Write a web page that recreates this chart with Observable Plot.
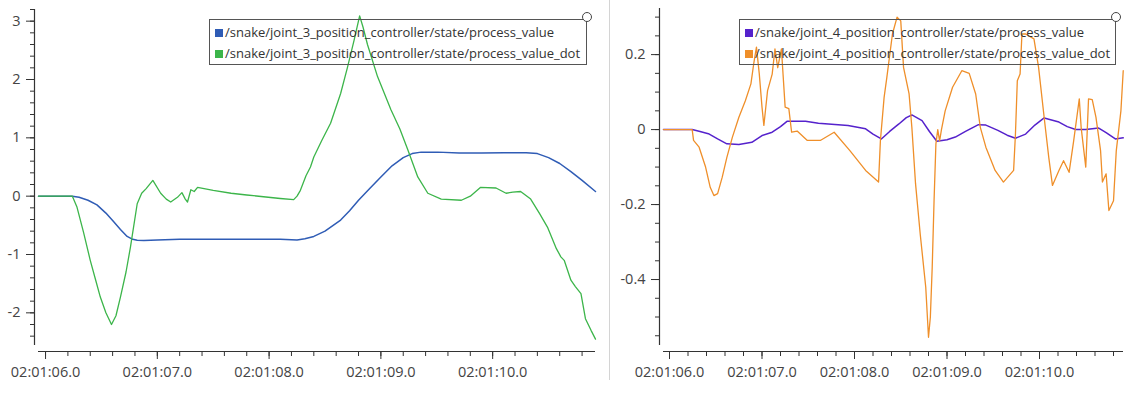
<!DOCTYPE html>
<html>
<head>
<meta charset="utf-8">
<script src="https://cdn.jsdelivr.net/npm/d3@7"></script>
<script src="https://cdn.jsdelivr.net/npm/@observablehq/plot@0.6"></script>
<style>
  html, body { margin: 0; padding: 0; background: #fff; }
  #root { position: relative; width: 1134px; height: 399px; overflow: hidden; background: #fff; font-family: "Open Sans", "Noto Sans", sans-serif; }
  #root svg { position: absolute; top: 0; }
  .divider { position: absolute; left: 609px; top: 0; width: 1px; height: 380px; background: #d4d4d4; }
  .legend { position: absolute; top: 19px; height: 46px; border: 1.5px solid #555; background: transparent; box-sizing: border-box; }
  .row { position: absolute; left: 5px; font-size: 13px; color: #333; white-space: nowrap; line-height: 16px; }
  .sw { display: inline-block; width: 8px; height: 8px; margin-right: 2px; vertical-align: 0px; }
  .knob { position: absolute; top: 12px; width: 10px; height: 10px; border-radius: 50%; border: 1.3px solid #444; background: #fff; box-sizing: border-box; }
</style>
</head>
<body>
<div id="root"></div>
<script>
// ---------- data ----------
const legendLeft = ["/snake/joint_3_position_controller/state/process_value", "/snake/joint_3_position_controller/state/process_value_dot"];
const legendRight = ["/snake/joint_4_position_controller/state/process_value", "/snake/joint_4_position_controller/state/process_value_dot"];

// time in seconds after 02:01:00
const j3PosTime = [5.937, 6.24, 6.30, 6.38, 6.46, 6.54, 6.61, 6.67, 6.73, 6.78, 6.82, 6.88, 7.0, 7.2, 7.5, 7.8, 8.1, 8.25, 8.32, 8.40, 8.50, 8.64, 8.72, 8.80, 8.90, 9.00, 9.10, 9.20, 9.28, 9.36, 9.51, 9.70, 9.90, 10.10, 10.30, 10.40, 10.50, 10.60, 10.70, 10.80, 10.92];
const j3PosValue = [0, 0, -0.02, -0.07, -0.15, -0.29, -0.44, -0.57, -0.69, -0.74, -0.755, -0.76, -0.75, -0.74, -0.74, -0.74, -0.74, -0.75, -0.73, -0.69, -0.60, -0.41, -0.25, -0.07, 0.13, 0.33, 0.52, 0.66, 0.73, 0.755, 0.755, 0.74, 0.74, 0.745, 0.745, 0.73, 0.66, 0.56, 0.42, 0.27, 0.08];

const j3DotTime = [5.937, 6.24, 6.28, 6.34, 6.40, 6.45, 6.49, 6.54, 6.59, 6.63, 6.67, 6.72, 6.76, 6.82, 6.86, 6.90, 6.96, 7.03, 7.08, 7.12, 7.18, 7.22, 7.25, 7.27, 7.30, 7.33, 7.36, 7.5, 7.66, 7.8, 7.95, 8.1, 8.22, 8.25, 8.28, 8.33, 8.37, 8.40, 8.47, 8.55, 8.64, 8.70, 8.76, 8.81, 8.84, 8.88, 8.97, 9.09, 9.17, 9.24, 9.33, 9.42, 9.54, 9.72, 9.80, 9.89, 10.03, 10.12, 10.18, 10.25, 10.34, 10.42, 10.49, 10.57, 10.61, 10.64, 10.70, 10.74, 10.79, 10.83, 10.88, 10.92];
const j3DotValue = [0, 0, -0.18, -0.62, -1.1, -1.45, -1.73, -2.0, -2.2, -2.05, -1.73, -1.3, -0.87, -0.13, 0.05, 0.13, 0.27, 0.05, -0.05, -0.1, -0.02, 0.06, -0.05, -0.1, 0.11, 0.08, 0.15, 0.10, 0.05, 0.02, -0.01, -0.04, -0.06, 0.0, 0.1, 0.35, 0.5, 0.67, 0.95, 1.25, 1.76, 2.2, 2.67, 3.09, 2.9, 2.6, 2.05, 1.48, 1.15, 0.8, 0.33, 0.05, -0.05, -0.07, 0.0, 0.15, 0.14, 0.05, 0.07, 0.08, -0.05, -0.3, -0.53, -0.9, -1.04, -1.1, -1.44, -1.55, -1.67, -2.1, -2.3, -2.45];

const j4PosTime = [5.935, 6.245, 6.33, 6.42, 6.52, 6.62, 6.75, 6.89, 7.0, 7.11, 7.2, 7.27, 7.47, 7.61, 7.93, 8.12, 8.20, 8.29, 8.38, 8.48, 8.56, 8.62, 8.73, 8.81, 8.89, 9.00, 9.09, 9.2, 9.34, 9.42, 9.55, 9.65, 9.74, 9.85, 9.95, 10.05, 10.21, 10.30, 10.39, 10.50, 10.64, 10.72, 10.82, 10.905];
const j4PosValue = [0, 0, -0.005, -0.011, -0.025, -0.038, -0.04, -0.034, -0.016, -0.007, 0.008, 0.022, 0.022, 0.017, 0.011, 0.002, -0.012, -0.025, -0.005, 0.015, 0.032, 0.039, 0.024, -0.005, -0.031, -0.027, -0.02, -0.005, 0.013, 0.012, -0.002, -0.015, -0.023, -0.012, 0.012, 0.031, 0.02, 0.008, 0.0, 0.0, 0.004, -0.008, -0.025, -0.022];

const j4DotTime = [5.935, 6.245, 6.26, 6.32, 6.39, 6.44, 6.48, 6.52, 6.57, 6.62, 6.68, 6.75, 6.82, 6.88, 6.91, 6.94, 6.97, 7.00, 7.02, 7.06, 7.11, 7.14, 7.17, 7.21, 7.25, 7.29, 7.32, 7.38, 7.49, 7.63, 7.78, 7.95, 8.12, 8.26, 8.28, 8.32, 8.35, 8.41, 8.46, 8.50, 8.53, 8.59, 8.62, 8.66, 8.71, 8.77, 8.80, 8.82, 8.84, 8.86, 8.88, 8.90, 8.92, 8.94, 8.98, 9.06, 9.16, 9.24, 9.31, 9.36, 9.42, 9.52, 9.61, 9.72, 9.74, 9.76, 9.79, 9.81, 9.85, 9.94, 9.99, 10.05, 10.10, 10.14, 10.21, 10.26, 10.32, 10.37, 10.43, 10.45, 10.50, 10.53, 10.57, 10.61, 10.66, 10.68, 10.72, 10.75, 10.80, 10.83, 10.88, 10.905];
const j4DotValue = [0, 0, -0.029, -0.047, -0.1, -0.154, -0.176, -0.171, -0.127, -0.074, -0.02, 0.033, 0.077, 0.122, 0.175, 0.22, 0.15, 0.06, 0.011, 0.104, 0.148, 0.215, 0.165, 0.215, 0.06, 0.056, -0.007, -0.004, -0.029, -0.029, -0.007, -0.056, -0.109, -0.14, -0.029, 0.086, 0.14, 0.255, 0.3, 0.29, 0.166, 0.095, 0.006, -0.145, -0.278, -0.42, -0.554, -0.5, -0.367, -0.19, -0.038, 0.0, -0.03, 0.0, 0.05, 0.113, 0.157, 0.15, 0.095, 0.006, -0.047, -0.109, -0.14, -0.109, -0.011, 0.13, 0.148, 0.255, 0.255, 0.242, 0.166, 0.033, -0.074, -0.149, -0.109, -0.083, -0.114, -0.029, 0.082, 0.006, -0.10, 0.082, 0.08, 0.033, -0.056, -0.14, -0.118, -0.216, -0.19, -0.056, 0.05, 0.157];

// ticks
const xMajorTicks = [6, 7, 8, 9, 10];
const xMinorTicks = d3.range(6, 10.81, 0.2).map(v => +v.toFixed(1));
const leftYMajor = [-2, -1, 0, 1, 2, 3];
const leftYMinor = d3.range(-2.4, 3.21, 0.2).map(v => +v.toFixed(1));
const rightYMajor = [-0.4, -0.2, 0, 0.2];
const rightYMinor = d3.range(-0.55, 0.301, 0.05).map(v => +v.toFixed(2));

const colors = { j3pos: "#2f5cb5", j3dot: "#3cb54a", j4pos: "#5522cc", j4dot: "#ef8f2a" };

// ---------- helpers ----------
const zip = (ts, vs) => ts.map((t, i) => ({t, v: vs[i]}));
const fmtTime = s => "02:01:" + String(Math.floor(s)).padStart(2, "0") + ".0";
const fmtNum = v => String(+v.toFixed(2)).replace("\u2212", "-");
const axisColor = "#333";
const labelSize = 14.5;

function panel({width, marginLeft, marginRight, marginTop, xDomain, yDomain, yMajor, yMinor, series}) {
  return Plot.plot({
    width, height: 399, marginLeft, marginRight, marginTop, marginBottom: 54,
    x: {domain: xDomain},
    y: {domain: yDomain},
    style: {fontFamily: "'Open Sans', 'Noto Sans', sans-serif", fontSize: labelSize + "px", color: axisColor, background: "transparent", overflow: "visible"},
    marks: [
      Plot.ruleX([xDomain[0]], {dx: -4, stroke: axisColor, strokeWidth: 1.2}),
      Plot.ruleY([yDomain[0]], {dy: 6, stroke: axisColor, strokeWidth: 1.2}),
      Plot.axisY(yMajor, {tickSize: 8, tickPadding: 6, dx: -4, tickFormat: fmtNum, label: null, fill: "#444", fontSize: labelSize}),
      Plot.axisY(yMinor, {tickSize: 4, dx: -4, fill: "none", label: null}),
      Plot.axisX(xMajorTicks, {tickSize: 8, tickPadding: 7, dy: 6, tickFormat: fmtTime, label: null, fill: "#444", fontSize: labelSize}),
      Plot.axisX(xMinorTicks, {tickSize: 5, dy: 6, fill: "none", label: null}),
      ...series.map(s => Plot.line(s.data, {x: "t", y: "v", stroke: s.color, strokeWidth: s.width}))
    ]
  });
}

const root = document.getElementById("root");

const left = panel({
  width: 600, marginLeft: 38, marginRight: 5, marginTop: 9,
  xDomain: [5.937, 10.92], yDomain: [-2.56, 3.2],
  yMajor: leftYMajor, yMinor: leftYMinor,
  series: [
    {data: zip(j3PosTime, j3PosValue), color: colors.j3pos, width: 1.5},
    {data: zip(j3DotTime, j3DotValue), color: colors.j3dot, width: 1.3}
  ]
});
left.style.left = "0px";
root.appendChild(left);

const right = panel({
  width: 522, marginLeft: 51, marginRight: 11, marginTop: 8,
  xDomain: [5.935, 10.908], yDomain: [-0.576, 0.323],
  yMajor: rightYMajor, yMinor: rightYMinor,
  series: [
    {data: zip(j4PosTime, j4PosValue), color: colors.j4pos, width: 1.5},
    {data: zip(j4DotTime, j4DotValue), color: colors.j4dot, width: 1.3}
  ]
});
right.style.left = "612px";
root.appendChild(right);

const div = document.createElement("div");
div.className = "divider";
root.appendChild(div);

function legend(x, w, names, cols) {
  const box = document.createElement("div");
  box.className = "legend";
  box.style.left = x + "px";
  box.style.width = w + "px";
  names.forEach((n, i) => {
    const r = document.createElement("div");
    r.className = "row";
    r.style.top = (4 + i * 21) + "px";
    const sw = document.createElement("span");
    sw.className = "sw";
    sw.style.background = cols[i];
    r.appendChild(sw);
    r.appendChild(document.createTextNode(n));
    box.appendChild(r);
  });
  root.appendChild(box);
  const k = document.createElement("div");
  k.className = "knob";
  k.style.left = (x + w - 5) + "px";
  root.appendChild(k);
}
legend(209, 378, legendLeft, [colors.j3pos, colors.j3dot]);
legend(739, 377, legendRight, [colors.j4pos, colors.j4dot]);
</script>
</body>
</html>
